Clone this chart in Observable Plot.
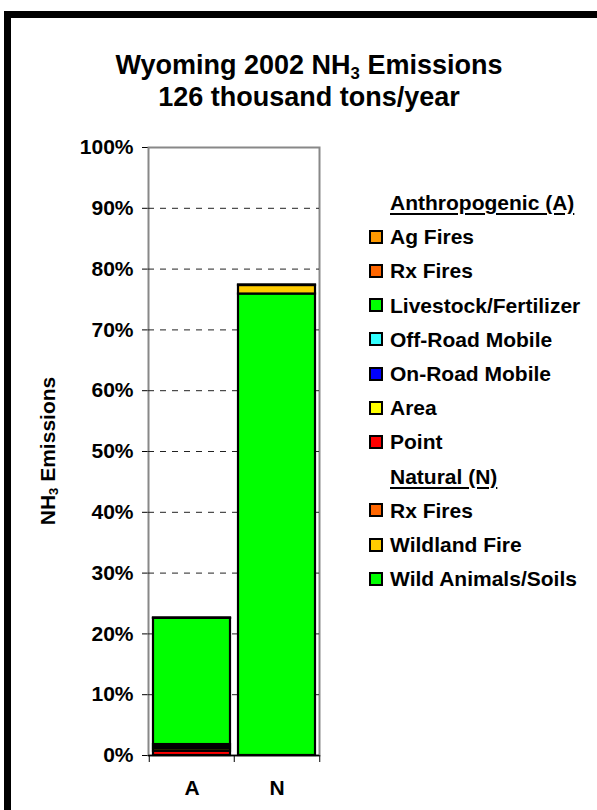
<!DOCTYPE html>
<html>
<head>
<meta charset="utf-8">
<script src="https://cdn.jsdelivr.net/npm/d3@7"></script>
<script src="https://cdn.jsdelivr.net/npm/@observablehq/plot@0.6"></script>
<style>
  html, body { margin: 0; padding: 0; background: #fff; overflow: hidden; }
  #wrap { position: relative; width: 597px; height: 810px; font-family: "Liberation Sans", Arial, sans-serif; font-weight: bold; color: #000; }
  #wrap svg { position: absolute; left: 0; top: 0; }
  .frameTop { position: absolute; left: 4px; top: 11px; width: 593px; height: 7px; background: #000; }
  .frameLeft { position: absolute; left: 4px; top: 11px; width: 7px; height: 799px; background: #000; }
  .title { position: absolute; left: 309px; transform: translateX(-50%); white-space: nowrap; font-size: 27px; line-height: 1; }
  .ylabel { position: absolute; left: 47px; top: 451px; transform: translate(-50%, -50%) rotate(-90deg); white-space: nowrap; font-size: 21px; line-height: 1; }
  sub { font-size: 0.62em; vertical-align: -0.3em; line-height: 0; }
  .leg { position: absolute; left: 369px; white-space: nowrap; font-size: 21px; line-height: 1; display: flex; align-items: center; }
  .leg .sw { width: 10px; height: 10px; border: 2px solid #000; margin-right: 7px; box-sizing: content-box; }
  .leg.head { left: 390px; text-decoration: underline; text-decoration-thickness: 2px; text-underline-offset: 3px; }
</style>
</head>
<body>
<div id="wrap"></div>
<script>
// ---- data (percent of state total) ----
const categories = ["A", "N"];

// Anthropogenic sources, stacked bottom to top
const anthroSources = ["Point", "Area", "On-Road Mobile", "Off-Road Mobile", "Livestock/Fertilizer", "Rx Fires", "Ag Fires"];
const anthroValues  = [0.7, 0.4, 0.35, 0.35, 20.75, 0.03, 0.02];
const anthroColors  = ["#FF0000", "#FFFF00", "#0000FF", "#33FFFF", "#00FF00", "#FF6600", "#FF9900"];

// Natural sources, stacked bottom to top
const naturalSources = ["Wild Animals/Soils", "Wildland Fire", "Rx Fires"];
const naturalValues  = [75.9, 1.4, 0.1];
const naturalColors  = ["#00FF00", "#FFCC00", "#FF6600"];

const yTicks = [0, 10, 20, 30, 40, 50, 60, 70, 80, 90, 100];
const gridTicks = [10, 20, 30, 40, 50, 60, 70, 80, 90];

const titleLine1 = "Wyoming 2002 NH<sub>3</sub> Emissions";
const titleLine2 = "126 thousand tons/year";
const yLabel = "NH<sub>3</sub> Emissions";
const anthroHeading = "Anthropogenic (A)";
const naturalHeading = "Natural (N)";

// ---- build table ----
const rows = [];
anthroSources.forEach((s, i) => rows.push({cat: "A", key: "A:" + s, source: s, value: anthroValues[i], color: anthroColors[i]}));
naturalSources.forEach((s, i) => rows.push({cat: "N", key: "N:" + s, source: s, value: naturalValues[i], color: naturalColors[i]}));

const W = 597, H = 810;
const mL = 148, mR = 278, mT = 147, mB = 55;
const step = (W - mL - mR) / categories.length;

const chart = Plot.plot({
  width: W, height: H,
  marginLeft: mL, marginRight: mR, marginTop: mT, marginBottom: mB,
  style: {fontFamily: "'Liberation Sans', Arial, sans-serif", fontSize: "21px", fontWeight: "bold", color: "#000", background: "transparent", overflow: "visible"},
  x: {domain: categories, paddingInner: 0.1, paddingOuter: 0.05, label: null, tickSize: 0, tickPadding: 25},
  y: {domain: [0, 100], ticks: yTicks, tickFormat: d => d + "%", tickSize: 6, tickPadding: 9, label: null, line: true},
  color: {type: "identity"},
  marks: [
    Plot.frame({stroke: "#888", strokeWidth: 2}),
    Plot.ruleY(gridTicks, {stroke: "#222", strokeWidth: 1, strokeDasharray: "6,6"}),
    Plot.barY(rows, {x: "cat", y: "value", z: "key", fill: "color", stroke: "#000", strokeWidth: 2.2}),
    Plot.ruleY([0], {stroke: "#000", strokeWidth: 1.5}),
    Plot.ruleX(categories, {x: d => d, y1: 0, y2: 0, dx: -step / 2, insetBottom: -7, stroke: "#000"}),
    Plot.ruleX([categories[categories.length - 1]], {x: d => d, y1: 0, y2: 0, dx: step / 2, insetBottom: -7, stroke: "#000"})
  ]
});

const wrap = document.getElementById("wrap");
wrap.appendChild(chart);

function addDiv(cls, html, styles) {
  const d = document.createElement("div");
  d.className = cls;
  d.innerHTML = html;
  Object.assign(d.style, styles || {});
  wrap.appendChild(d);
  return d;
}
addDiv("frameTop", "");
addDiv("frameLeft", "");
addDiv("title", titleLine1, {top: "52px"});
addDiv("title", titleLine2, {top: "84px"});
addDiv("ylabel", yLabel);

// legend
let yPos = 203;
const rowH = 34.2;
function legHead(text) {
  const d = addDiv("leg head", text);
  d.style.top = (yPos - 11) + "px";
  yPos += rowH;
}
function legItem(text, color) {
  const d = addDiv("leg", `<span class="sw" style="background:${color}"></span><span>${text}</span>`);
  d.style.top = (yPos - 11) + "px";
  yPos += rowH;
}
legHead(anthroHeading);
for (let i = anthroSources.length - 1; i >= 0; i--) legItem(anthroSources[i], anthroColors[i]);
legHead(naturalHeading);
for (let i = naturalSources.length - 1; i >= 0; i--) legItem(naturalSources[i], naturalColors[i]);
</script>
</body>
</html>
